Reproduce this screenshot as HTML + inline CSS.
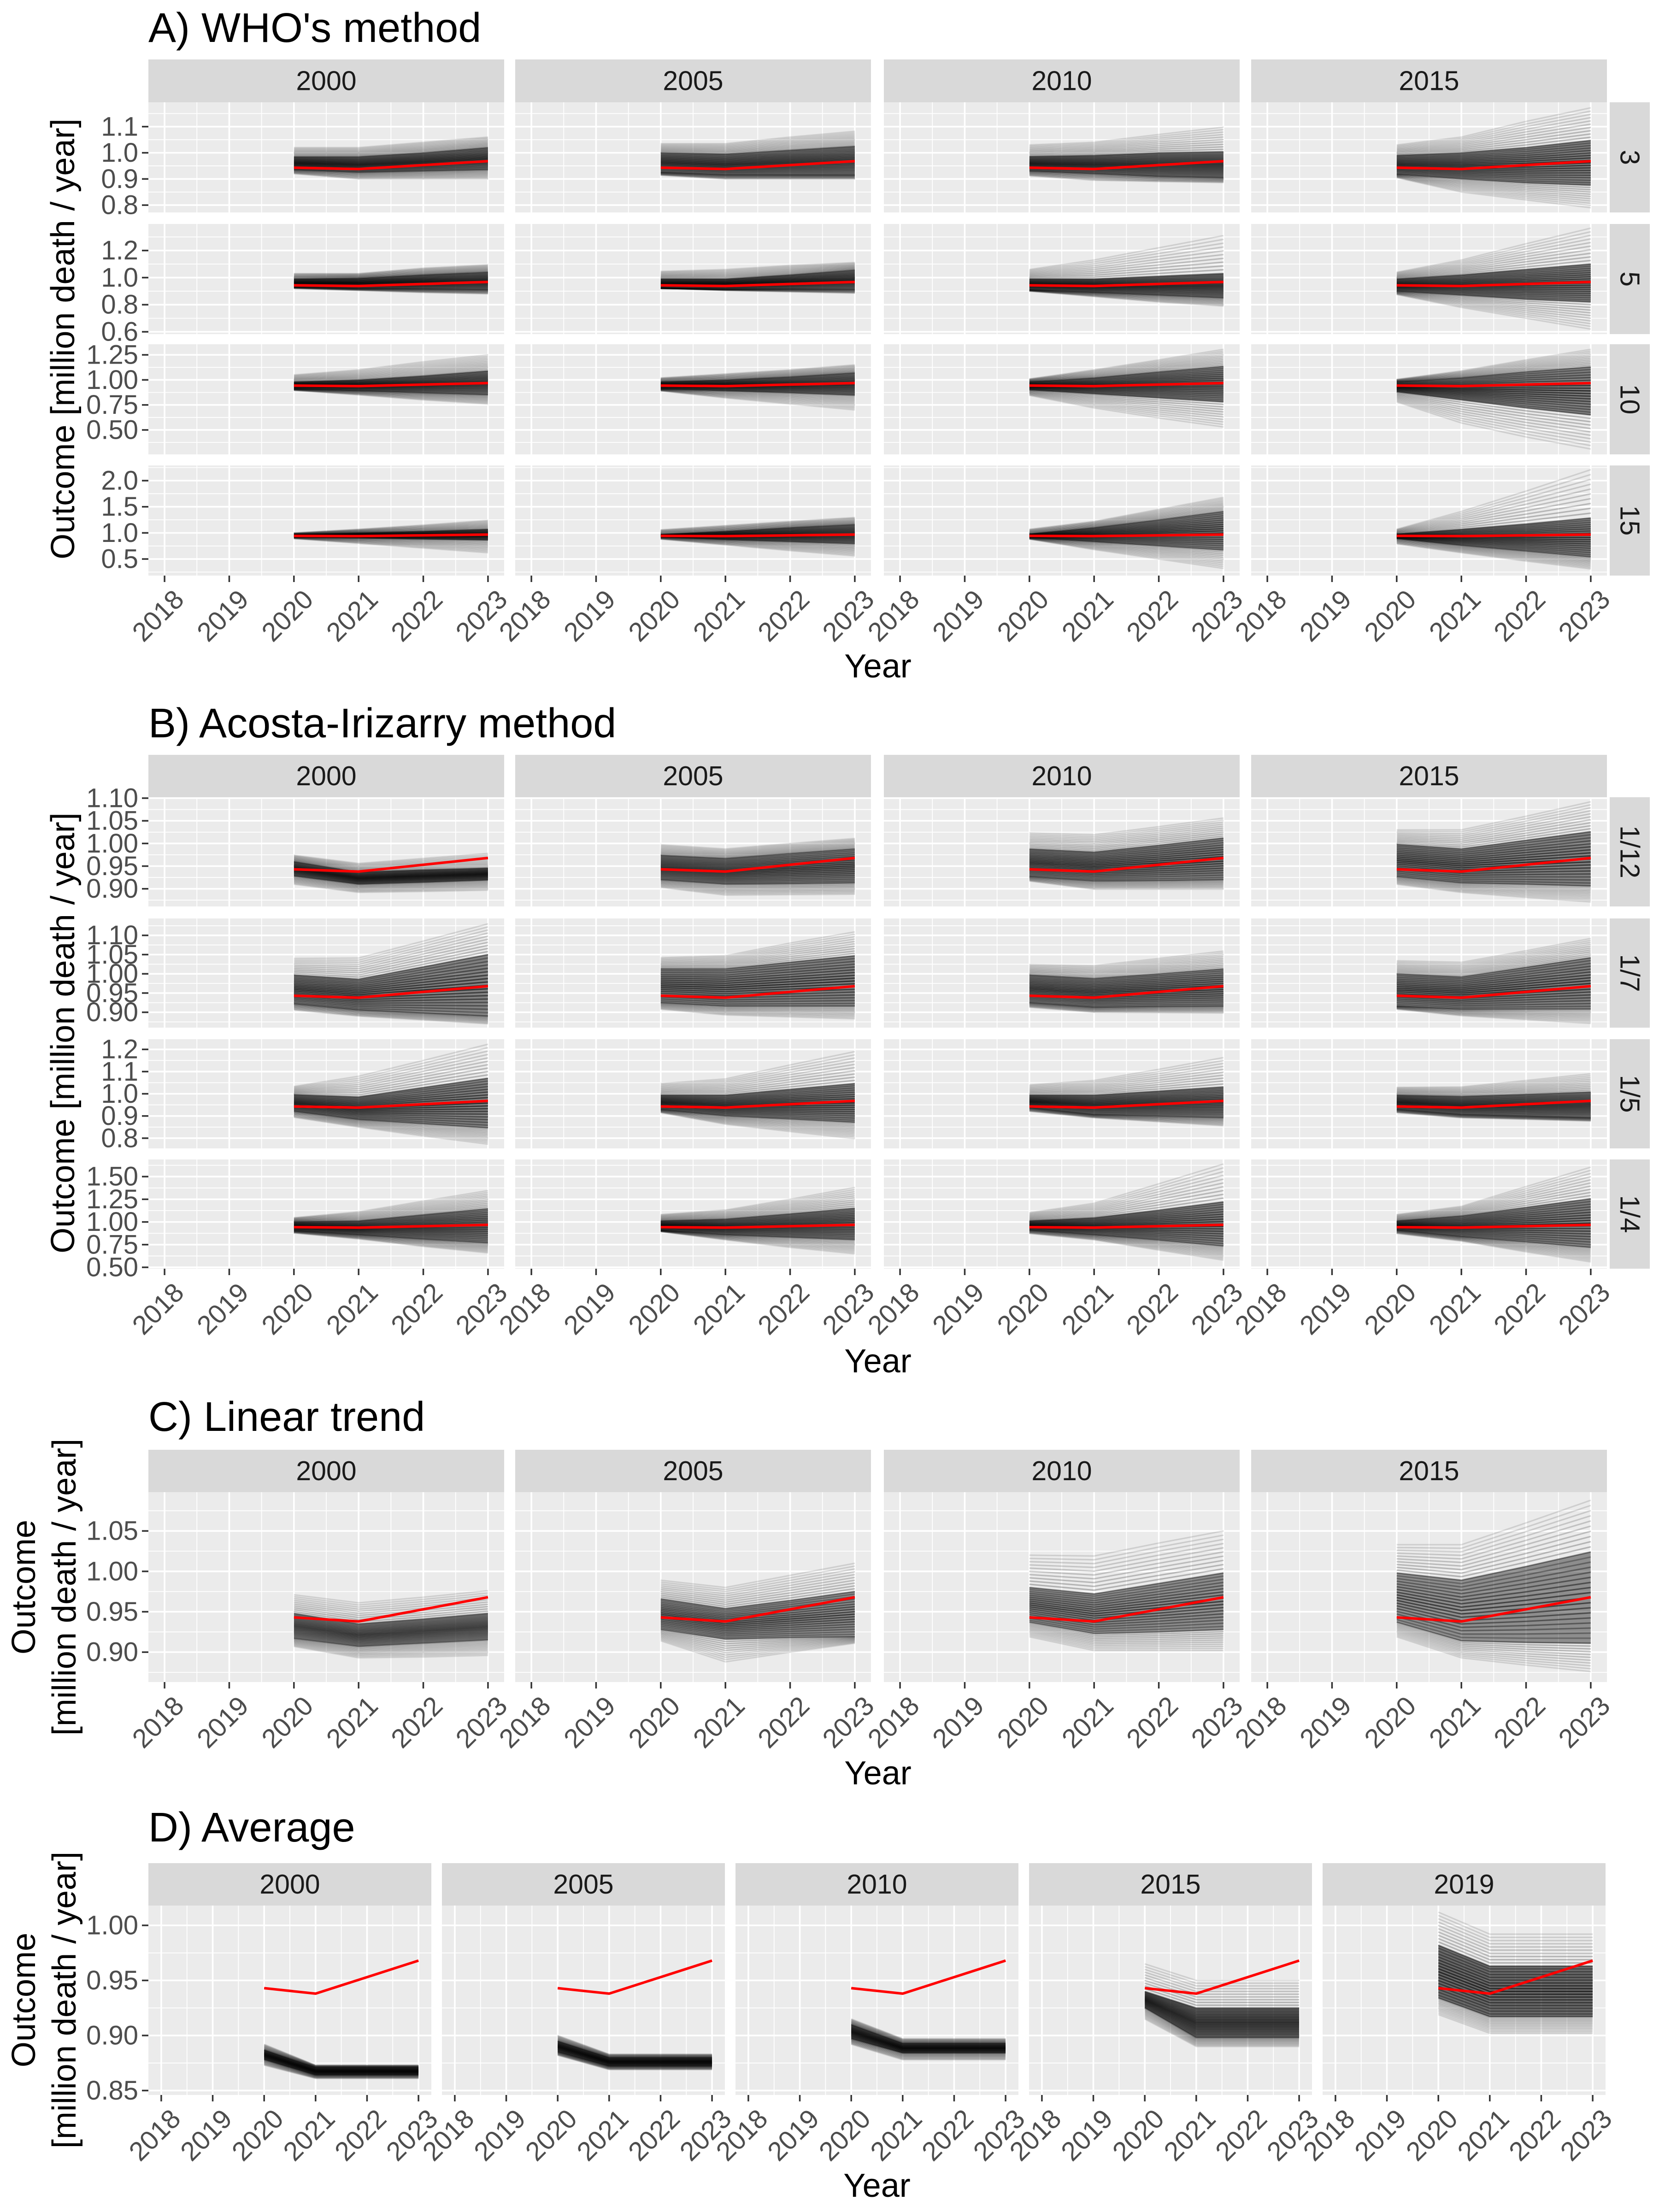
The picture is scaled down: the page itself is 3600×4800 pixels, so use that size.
<!DOCTYPE html>
<html><head><meta charset="utf-8"><title>Excess mortality methods</title>
<style>
html,body{margin:0;padding:0;background:#fff;}
svg{display:block;font-family:"Liberation Sans",Arial,sans-serif;}
</style></head>
<body>
<svg id="chart" width="3600" height="4800" viewBox="0 0 3600 4800" xmlns="http://www.w3.org/2000/svg">
<rect x="0" y="0" width="3600" height="4800" fill="#ffffff"/>
</svg>
<script>
// ---------- data ----------
const years=[2020,2021,2022,2023];
const xTickYears=[2018,2019,2020,2021,2022,2023];
const xTickLabels=["2018","2019","2020","2021","2022","2023"];
const redLine=[0.943,0.938,0.953,0.968];
const colLabelsABC=["2000","2005","2010","2015"];
const colLabelsD=["2000","2005","2010","2015","2019"];
const rowLabelsA=["3","5","10","15"];
const rowLabelsB=["1/12","1/7","1/5","1/4"];

const A_yTicks=[[0.8,0.9,1.0,1.1],[0.6,0.8,1.0,1.2],[0.5,0.75,1.0,1.25],[0.5,1.0,1.5,2.0]];
const A_yTickLabels=[["0.8","0.9","1.0","1.1"],["0.6","0.8","1.0","1.2"],["0.50","0.75","1.00","1.25"],["0.5","1.0","1.5","2.0"]];
const A_domain=[[0.772,1.193],[0.583,1.396],[0.256,1.356],[0.183,2.291]];
const A_hi=[
[1.02,1.02,1.04,1.06],[1.035,1.035,1.06,1.082],[1.03,1.04,1.07,1.098],[1.03,1.06,1.12,1.172],
[1.03,1.03,1.07,1.094],[1.046,1.06,1.09,1.111],[1.06,1.13,1.22,1.31],[1.04,1.13,1.25,1.365],
[1.05,1.1,1.18,1.25],[1.02,1.06,1.1,1.15],[1.01,1.1,1.2,1.305],[1.005,1.09,1.2,1.305],
[1.0,1.07,1.15,1.24],[1.06,1.14,1.22,1.295],[1.07,1.22,1.45,1.68],[1.07,1.41,1.8,2.21]];
const A_q3=[
[0.985,0.985,1.0,1.02],[1.0,0.995,1.01,1.025],[0.986,0.99,1.0,1.004],[0.99,1.0,1.02,1.047],
[0.99,0.995,1.02,1.04],[0.99,0.99,1.02,1.056],[0.99,0.99,1.01,1.03],[0.99,1.02,1.06,1.1],
[0.98,1.0,1.04,1.09],[0.98,1.0,1.03,1.07],[0.98,1.02,1.08,1.135],[0.98,1.02,1.08,1.13],
[0.97,1.0,1.03,1.07],[0.97,1.03,1.1,1.16],[0.98,1.1,1.25,1.41],[0.98,1.07,1.17,1.285]];
const A_q1=[
[0.935,0.925,0.93,0.935],[0.925,0.915,0.915,0.915],[0.93,0.92,0.91,0.905],[0.918,0.9,0.885,0.876],
[0.93,0.92,0.915,0.91],[0.92,0.915,0.915,0.912],[0.91,0.89,0.87,0.85],[0.9,0.87,0.84,0.82],
[0.91,0.89,0.87,0.85],[0.91,0.89,0.87,0.845],[0.9,0.86,0.82,0.78],[0.88,0.8,0.72,0.65],
[0.92,0.9,0.88,0.86],[0.92,0.87,0.83,0.79],[0.91,0.83,0.75,0.67],[0.89,0.76,0.65,0.54]];
const A_lo=[
[0.92,0.9,0.9,0.9],[0.914,0.9,0.9,0.9],[0.912,0.895,0.89,0.886],[0.905,0.85,0.82,0.79],
[0.92,0.905,0.89,0.88],[0.923,0.905,0.895,0.885],[0.9,0.86,0.82,0.79],[0.875,0.78,0.7,0.62],
[0.895,0.85,0.8,0.76],[0.89,0.82,0.76,0.7],[0.845,0.72,0.62,0.53],[0.78,0.57,0.43,0.31],
[0.89,0.8,0.71,0.62],[0.88,0.77,0.66,0.56],[0.88,0.68,0.5,0.32],[0.79,0.62,0.46,0.31]];

const B_yTicks=[[0.9,0.95,1.0,1.05,1.1],[0.9,0.95,1.0,1.05,1.1],[0.8,0.9,1.0,1.1,1.2],[0.5,0.75,1.0,1.25,1.5]];
const B_yTickLabels=[["0.90","0.95","1.00","1.05","1.10"],["0.90","0.95","1.00","1.05","1.10"],["0.8","0.9","1.0","1.1","1.2"],["0.50","0.75","1.00","1.25","1.50"]];
const B_domain=[[0.861,1.102],[0.860,1.144],[0.754,1.246],[0.485,1.689]];
const B_hi=[
[0.974,0.956,0.967,0.978],[0.997,0.988,1.0,1.011],[1.023,1.019,1.037,1.056],[1.03,1.03,1.06,1.092],
[1.04,1.041,1.085,1.13],[1.042,1.047,1.08,1.109],[1.024,1.021,1.04,1.059],[1.034,1.03,1.06,1.092],
[1.033,1.079,1.15,1.223],[1.046,1.067,1.13,1.19],[1.04,1.06,1.11,1.163],[1.029,1.031,1.06,1.09],
[1.047,1.112,1.23,1.346],[1.082,1.132,1.25,1.38],[1.102,1.206,1.42,1.639],[1.082,1.172,1.39,1.604]];
const B_q3=[
[0.96,0.937,0.942,0.946],[0.974,0.967,0.978,0.988],[0.988,0.981,0.996,1.012],[0.998,0.988,1.007,1.026],
[0.997,0.986,1.018,1.05],[1.013,1.013,1.03,1.047],[0.997,0.988,1.0,1.013],[1.0,0.992,1.017,1.042],
[0.996,0.986,1.028,1.07],[0.994,0.994,1.02,1.046],[0.994,0.994,1.012,1.031],[0.994,0.988,0.998,1.008],
[1.002,1.012,1.08,1.147],[1.012,1.032,1.09,1.152],[1.012,1.047,1.13,1.221],[1.012,1.067,1.16,1.256]];
const B_q1=[
[0.928,0.91,0.914,0.919],[0.92,0.91,0.911,0.913],[0.927,0.917,0.918,0.92],[0.927,0.913,0.91,0.906],
[0.922,0.906,0.898,0.89],[0.925,0.916,0.916,0.916],[0.925,0.913,0.915,0.916],[0.916,0.908,0.908,0.908],
[0.921,0.884,0.865,0.846],[0.929,0.9,0.886,0.871],[0.936,0.906,0.899,0.892],[0.929,0.906,0.899,0.892],
[0.903,0.858,0.81,0.769],[0.908,0.858,0.83,0.803],[0.908,0.858,0.8,0.734],[0.908,0.838,0.78,0.719]];
const B_lo=[
[0.91,0.892,0.894,0.897],[0.903,0.886,0.887,0.888],[0.917,0.899,0.899,0.899],[0.91,0.892,0.881,0.871],
[0.906,0.89,0.88,0.87],[0.908,0.893,0.888,0.883],[0.913,0.9,0.899,0.898],[0.908,0.891,0.881,0.871],
[0.894,0.85,0.81,0.773],[0.915,0.863,0.83,0.798],[0.921,0.892,0.874,0.856],[0.915,0.892,0.885,0.877],
[0.878,0.813,0.73,0.659],[0.893,0.803,0.72,0.649],[0.873,0.803,0.69,0.579],[0.873,0.789,0.67,0.56]];

const C_yTicks=[0.9,0.95,1.0,1.05];
const C_yTickLabels=["0.90","0.95","1.00","1.05"];
const C_domain=[0.863,1.098];
const C_hi=[[0.971,0.961,0.968,0.976],[0.989,0.98,0.995,1.01],[1.02,1.019,1.035,1.05],[1.033,1.033,1.06,1.088]];
const C_q3=[[0.948,0.935,0.941,0.948],[0.966,0.954,0.964,0.975],[0.98,0.972,0.985,0.998],[0.998,0.989,1.006,1.024]];
const C_q1=[[0.917,0.907,0.911,0.915],[0.928,0.916,0.918,0.919],[0.937,0.923,0.925,0.928],[0.937,0.914,0.912,0.911]];
const C_lo=[[0.907,0.893,0.894,0.896],[0.914,0.888,0.9,0.911],[0.919,0.902,0.902,0.902],[0.919,0.893,0.884,0.876]];

const D_yTicks=[0.85,0.9,0.95,1.0];
const D_yTickLabels=["0.85","0.90","0.95","1.00"];
const D_domain=[0.846,1.018];
const D_hi=[[0.892,0.873,0.873,0.873],[0.9,0.883,0.883,0.883],[0.915,0.897,0.897,0.897],[0.965,0.95,0.95,0.95],[1.012,0.992,0.992,0.992]];
const D_q3=[[0.887,0.871,0.871,0.871],[0.895,0.88,0.88,0.88],[0.91,0.893,0.893,0.893],[0.94,0.925,0.925,0.925],[0.982,0.963,0.963,0.963]];
const D_q1=[[0.878,0.864,0.864,0.864],[0.885,0.872,0.872,0.872],[0.897,0.884,0.884,0.884],[0.925,0.898,0.898,0.898],[0.934,0.917,0.917,0.917]];
const D_lo=[[0.873,0.861,0.861,0.861],[0.882,0.869,0.869,0.869],[0.892,0.878,0.878,0.878],[0.915,0.89,0.89,0.89],[0.919,0.902,0.902,0.902]];

// ---------- drawing ----------
const NS="http://www.w3.org/2000/svg";
const svg=document.getElementById('chart');
function mk(tag,attrs,parent){const e=document.createElementNS(NS,tag);for(const k in attrs)e.setAttribute(k,attrs[k]);(parent||svg).appendChild(e);return e;}
function txt(s,attrs,parent){const e=mk('text',attrs,parent);e.textContent=s;return e;}

function drawPanel(o){
  const g=mk('g',{});
  
  
  const x0=o.x,y0=o.y,w=o.w,h=o.h,d0=o.dom[0],d1=o.dom[1];
  const xs=v=>x0+(v-2017.75)/5.5*w;
  const ys=v=>y0+h-(v-d0)/(d1-d0)*h;
  const bg=mk('rect',{x:x0,y:y0,width:w,height:h,fill:'#EBEBEB'},g);
  
  
  const tk=o.ticks;
  const minors=[];
  for(let i=0;i<tk.length-1;i++)minors.push((tk[i]+tk[i+1])/2);
  const st=tk[1]-tk[0];
  minors.push(tk[0]-st/2);minors.push(tk[tk.length-1]+st/2);
  minors.forEach(v=>{if(v>d0&&v<d1){mk('line',{x1:x0,x2:x0+w,y1:ys(v),y2:ys(v),stroke:'#fff','stroke-width':1.8},g);}});
  for(let yv=2018.5;yv<2023;yv+=1){mk('line',{x1:xs(yv),x2:xs(yv),y1:y0,y2:y0+h,stroke:'#fff','stroke-width':1.8},g);}
  tk.forEach(v=>{mk('line',{x1:x0,x2:x0+w,y1:ys(v),y2:ys(v),stroke:'#fff','stroke-width':3.6},g);});
  xTickYears.forEach(v=>{mk('line',{x1:xs(v),x2:xs(v),y1:y0,y2:y0+h,stroke:'#fff','stroke-width':3.6},g);});
  const pts=a=>years.map((yr,i)=>xs(yr)+','+ys(a[i])).join(' ');
  const blend=(a,b,t)=>a.map((v,i)=>v+(b[i]-v)*t);
  const sims=mk('g',{},g);
  
  
  const addLine=(arr,op)=>{
    mk('polyline',{points:pts(arr),fill:'none',stroke:'#000','stroke-opacity':op,'stroke-width':3.2},sims);
  };
  const nOut=10;
  for(let i=0;i<=nOut;i++){const t=i/nOut;addLine(blend(o.hi,o.q3,t),0.12+0.14*t);addLine(blend(o.lo,o.q1,t),0.12+0.14*t);}
  const core=mk('polygon',{points:pts(o.q3)+' '+years.map((yr,i)=>xs(yr)+','+ys(o.q1[i])).reverse().join(' '),fill:'#000','fill-opacity':o.fillOp},sims);
  const nIn=18;
  for(let i=0;i<=nIn;i++){const t=i/nIn;const c=1-Math.abs(2*t-1);addLine(blend(o.q1,o.q3,t),o.coreOp*(0.45+0.55*c));}
  const red=mk('polyline',{points:pts(redLine),fill:'none',stroke:'#FF0000','stroke-width':5.5,'stroke-linejoin':'round'},g);
  
  
  if(o.yLabels){
    tk.forEach((v,i)=>{
      mk('line',{x1:x0-14,x2:x0,y1:ys(v),y2:ys(v),stroke:'#333','stroke-width':3.5},g);
      const t=txt(o.yLabels[i],{x:x0-22,y:ys(v),'text-anchor':'end','dominant-baseline':'central','font-size':58,fill:'#4D4D4D'},g);
      
      
    });
  }
  if(o.xLabels){
    xTickYears.forEach((v,i)=>{
      mk('line',{x1:xs(v),x2:xs(v),y1:y0+h,y2:y0+h+14,stroke:'#333','stroke-width':3.5},g);
      const ax=xs(v)+16, ay=y0+h+26;
      const t=txt(xTickLabels[i],{x:ax,y:ay,'text-anchor':'end','dominant-baseline':'hanging','font-size':58,fill:'#4D4D4D',transform:'rotate(-45 '+ax+' '+ay+')'},g);
      
      
    });
  }
}
function strip(x,y,w,h,label,vertical){
  const r=mk('rect',{x:x,y:y,width:w,height:h,fill:'#D9D9D9'});
  
  
  const cx=x+w/2,cy=y+h/2;
  const t=txt(label,{x:cx,y:cy,'text-anchor':'middle','dominant-baseline':'central','font-size':59,fill:'#1A1A1A',transform:vertical?'rotate(90 '+cx+' '+cy+')':''});
  
  
}
function title(s,y){
  const t=txt(s,{x:322,y:y,'font-size':90,fill:'#000'});
  
  
}
function xTitle(cx,y){
  const t=txt('Year',{x:cx,y:y,'text-anchor':'middle','font-size':72,fill:'#000'});
  
  
}
function yTitle(lines,xs,cy){
  lines.forEach((s,i)=>{
    const t=txt(s,{x:xs[i],y:cy,'text-anchor':'middle','dominant-baseline':'central','font-size':72,fill:'#000',transform:'rotate(-90 '+xs[i]+' '+cy+')'});
    
    
  });
}

const colsABC=[322,1118,1918,2715], wABC=772;
const colsD=[322,959,1596,2233,2870], wD=614;

function gridSection(titleStr,titleY,stripY,rowTops,rowH,rowLbls,ticks,tickLbls,doms,hi,q3,q1,lo,yearY,name){
  title(titleStr,titleY);
  colsABC.forEach((cx,c)=>strip(cx,stripY,wABC,rowTops[0]-stripY,colLabelsABC[c],false));
  rowTops.forEach((ry,r)=>{
    strip(3493,ry,87,rowH,rowLbls[r],true);
    colsABC.forEach((cx,c)=>{
      const k=r*4+c;
      drawPanel({name:name+'-panel-'+rowLbls[r].replace('/','-')+'-'+colLabelsABC[c],x:cx,y:ry,w:wABC,h:rowH,dom:doms[r],ticks:ticks[r],
        yLabels:c===0?tickLbls[r]:null,xLabels:r===rowTops.length-1,hi:hi[k],q3:q3[k],q1:q1[k],lo:lo[k],coreOp:0.6,fillOp:0.45});
    });
  });
  xTitle(1905,yearY);
  yTitle(['Outcome [million death / year]'],[137],(rowTops[0]+rowTops[3]+rowH)/2);
}
gridSection('A) WHO\'s method',91,129,[222,486,747,1010],239,rowLabelsA,A_yTicks,A_yTickLabels,A_domain,A_hi,A_q3,A_q1,A_lo,1470,'who');
gridSection('B) Acosta-Irizarry method',1600,1638,[1730,1993,2255,2516],237,rowLabelsB,B_yTicks,B_yTickLabels,B_domain,B_hi,B_q3,B_q1,B_lo,2978,'acosta');

title('C) Linear trend',3105);
colsABC.forEach((cx,c)=>{
  strip(cx,3146,wABC,92,colLabelsABC[c],false);
  drawPanel({name:'linear-panel-'+colLabelsABC[c],x:cx,y:3238,w:wABC,h:412,dom:C_domain,ticks:C_yTicks,yLabels:c===0?C_yTickLabels:null,xLabels:true,
    hi:C_hi[c],q3:C_q3[c],q1:C_q1[c],lo:C_lo[c],coreOp:0.55,fillOp:0.4});
});
xTitle(1905,3872);
yTitle(['Outcome','[million death / year]'],[52,140],3444);

title('D) Average',3996);
colsD.forEach((cx,c)=>{
  strip(cx,4043,wD,92,colLabelsD[c],false);
  drawPanel({name:'average-panel-'+colLabelsD[c],x:cx,y:4135,w:wD,h:411,dom:D_domain,ticks:D_yTicks,yLabels:c===0?D_yTickLabels:null,xLabels:true,
    hi:D_hi[c],q3:D_q3[c],q1:D_q1[c],lo:D_lo[c],coreOp:0.6,fillOp:0.55});
});
xTitle(1903,4767);
yTitle(['Outcome','[million death / year]'],[52,140],4340);
</script>
</body></html>
